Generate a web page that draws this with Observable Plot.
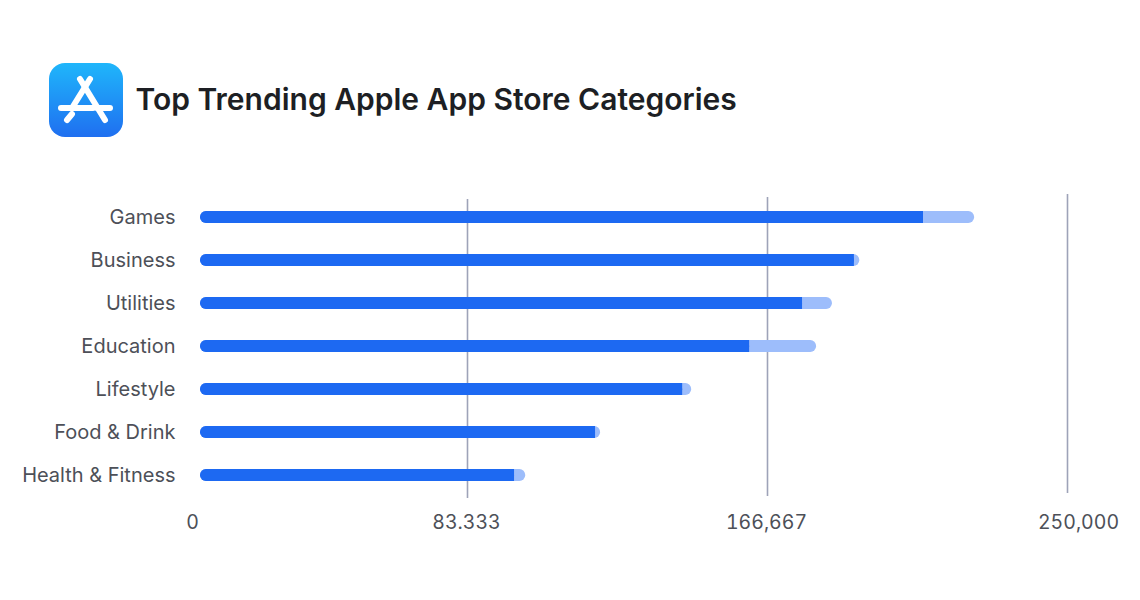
<!DOCTYPE html>
<html>
<head>
<meta charset="utf-8">
<script src="https://cdn.jsdelivr.net/npm/d3@7"></script>
<script src="https://cdn.jsdelivr.net/npm/@observablehq/plot@0.6"></script>
<style>
html,body{margin:0;padding:0;background:#fff;}
#header{position:relative;height:180px;width:1140px;}
#header svg{position:absolute;left:49px;top:63px;}
#title{position:absolute;left:135.5px;top:80px;font:600 30px/38px Inter,sans-serif;color:#1d1f24;white-space:nowrap;}
#chart svg{display:block;}
</style>
</head>
<body>
<div id="header">
<svg width="74" height="74" viewBox="0 0 74 74">
<defs><linearGradient id="g" x1="0" y1="0" x2="0" y2="1"><stop offset="0" stop-color="#1fb6fb"/><stop offset="1" stop-color="#1f6ff0"/></linearGradient></defs>
<rect width="74" height="74" rx="16" fill="url(#g)"/>
<g stroke="#fff" stroke-width="6" stroke-linecap="round" fill="none">
<path d="M31 16 L56 57"/><path d="M41 16 L23 45"/>
<path d="M12 45 L44 45"/><path d="M48 45 L61 45"/>
<path d="M23 51 L18 57"/>
</g>
</svg>
<div id="title">Top Trending Apple App Store Categories</div>
</div>
<div id="chart"></div>
<script>
const categories = ["Games","Business","Utilities","Education","Lifestyle","Food & Drink","Health & Fitness"];
const darkValues = [210000,190800,176400,161700,143100,118900,96400];
const totalValues = [224200,192300,184700,180300,145600,120300,99500];
const tickValues = [0,83333,166667,250000];
const tickLabels = ["0","83.333","166,667","250,000"];

const rows = categories.map((category,i)=>({category,dark:darkValues[i],total:totalValues[i]}));
const label = v => tickLabels[tickValues.indexOf(v)];
const gridColor = "#9ea3b8";
const tickStyle = {anchor:"bottom",tickSize:0,tickPadding:0,fontSize:19.5,tickFormat:label,label:null,dy:-85};
const gridStyle = {stroke:gridColor,strokeWidth:1.6};

const chart = Plot.plot({
  width:1140,height:420,marginTop:0,marginBottom:0,marginLeft:0,marginRight:0,
  style:{fontFamily:"Inter, sans-serif",background:"#fff",color:"#4d5058",overflow:"visible"},
  x:{type:"linear",domain:tickValues,range:[200,467,767,1067],axis:null},
  y:{type:"band",domain:categories,range:[0.5,332.5],padding:0.72,axis:null},
  marks:[
    Plot.ruleX([tickValues[1]],{...gridStyle,insetTop:19,insetBottom:102}),
    Plot.ruleX([tickValues[2]],{...gridStyle,insetTop:17,insetBottom:104}),
    Plot.ruleX([tickValues[3]],{...gridStyle,insetTop:14,insetBottom:107}),
    Plot.barX(rows,{x1:0,x2:"total",y:"category",fill:"#9dbdfb",rx:5.8}),
    Plot.barX(rows,{x1:0,x2:"dark",y:"category",fill:"#1d69f2",rx:5.8}),
    Plot.barX(rows,{x1:0,x2:"dark",y:"category",fill:"#1d69f2",insetLeft:6}),
    Plot.axisY({anchor:"left",tickSize:0,tickPadding:0,fontSize:20,label:null,textAnchor:"end",dx:175,dy:0.5}),
    Plot.axisX([tickValues[0]],{...tickStyle,dx:-8}),
    Plot.axisX(tickValues.slice(1,3),{...tickStyle,dx:-1}),
    Plot.axisX([tickValues[3]],{...tickStyle,dx:11})
  ]
});
document.getElementById("chart").append(chart);
</script>
</body>
</html>
